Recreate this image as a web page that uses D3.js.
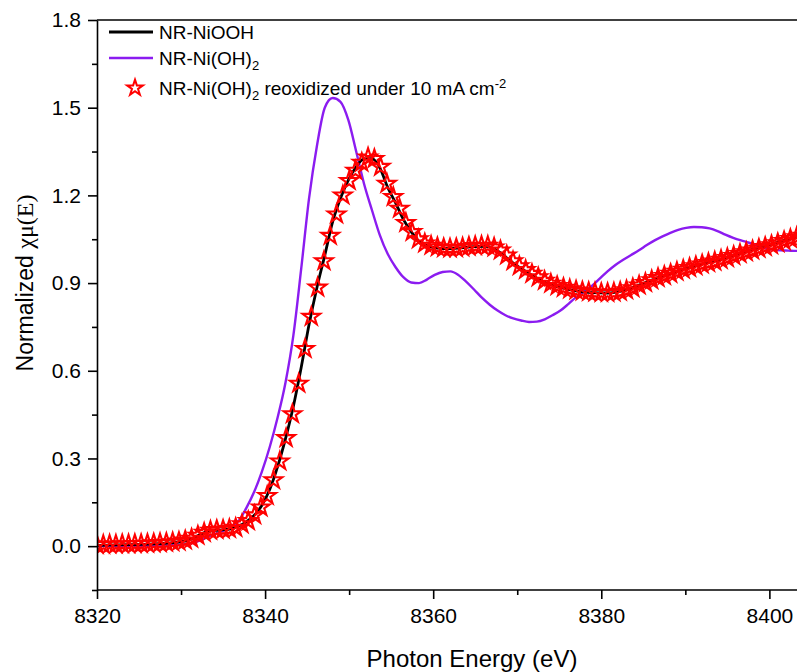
<!DOCTYPE html>
<html>
<head>
<meta charset="utf-8">
<script src="https://cdn.jsdelivr.net/npm/d3@7"></script>
<style>
  html, body { margin: 0; padding: 0; background: #fff; }
  svg { display: block; font-family: "Liberation Sans", Arial, sans-serif; }
</style>
</head>
<body>
<div id="chart"></div>
<script>
// NR-NiOOH (black line), [energy eV, normalized mu]
const niooh = [
  [8320.00, 0.003], [8323.74, 0.005], [8327.48, 0.009], [8329.35, 0.013], [8331.21, 0.024],
  [8332.15, 0.038], [8333.08, 0.050], [8334.02, 0.054], [8334.95, 0.056], [8335.89, 0.059],
  [8336.82, 0.068], [8337.76, 0.083], [8338.69, 0.105], [8339.62, 0.140], [8340.56, 0.195],
  [8341.49, 0.272], [8342.43, 0.368], [8343.36, 0.478], [8344.30, 0.612], [8345.23, 0.758],
  [8346.17, 0.885], [8347.10, 0.995], [8348.04, 1.110], [8348.97, 1.190], [8349.90, 1.252],
  [8350.84, 1.298], [8351.77, 1.325], [8352.71, 1.326], [8353.64, 1.295], [8354.58, 1.228],
  [8355.51, 1.175], [8356.45, 1.118], [8357.38, 1.076], [8358.32, 1.042], [8359.25, 1.028],
  [8361.12, 1.018], [8362.99, 1.020], [8364.86, 1.025], [8366.26, 1.026], [8367.66, 1.010],
  [8368.60, 0.990], [8369.53, 0.968], [8371.40, 0.933], [8373.27, 0.903], [8375.14, 0.885],
  [8377.01, 0.873], [8378.88, 0.867], [8380.74, 0.866], [8382.61, 0.874], [8384.48, 0.893],
  [8386.35, 0.914], [8388.22, 0.932], [8390.09, 0.950], [8391.96, 0.965], [8393.83, 0.978],
  [8395.70, 0.995], [8397.57, 1.012], [8399.43, 1.027], [8401.30, 1.042], [8403.17, 1.056],
  [8404.11, 1.062]
];

// NR-Ni(OH)2 (purple line)
const nioh2 = [
  [8320.00, 0.000], [8323.74, 0.000], [8327.48, 0.002], [8329.35, 0.004], [8331.21, 0.010],
  [8332.15, 0.018], [8333.08, 0.030], [8334.02, 0.042], [8334.95, 0.052], [8335.89, 0.062],
  [8336.82, 0.085], [8337.76, 0.130], [8338.69, 0.185], [8339.62, 0.255], [8340.56, 0.340],
  [8341.49, 0.440], [8342.43, 0.560], [8343.36, 0.720], [8344.30, 0.950], [8345.23, 1.190],
  [8346.17, 1.370], [8347.10, 1.500], [8348.04, 1.533], [8348.97, 1.520], [8349.90, 1.458],
  [8350.84, 1.350], [8351.77, 1.240], [8352.71, 1.150], [8353.64, 1.065], [8354.58, 1.000],
  [8355.51, 0.955], [8356.45, 0.920], [8357.38, 0.902], [8358.32, 0.900], [8359.25, 0.912],
  [8360.18, 0.928], [8361.12, 0.938], [8362.05, 0.940], [8362.99, 0.928], [8363.92, 0.905],
  [8364.86, 0.878], [8365.79, 0.850], [8366.73, 0.826], [8367.66, 0.806], [8368.60, 0.790],
  [8369.53, 0.779], [8370.46, 0.772], [8371.40, 0.767], [8372.33, 0.768], [8373.27, 0.776],
  [8374.20, 0.790], [8375.14, 0.806], [8376.07, 0.828], [8377.01, 0.852], [8377.94, 0.870],
  [8378.88, 0.890], [8379.81, 0.915], [8380.74, 0.940], [8381.68, 0.962], [8382.61, 0.980],
  [8383.55, 0.996], [8384.48, 1.012], [8385.42, 1.030], [8386.35, 1.046], [8387.29, 1.060],
  [8388.22, 1.072], [8389.15, 1.082], [8390.09, 1.089], [8391.02, 1.092], [8391.96, 1.091],
  [8392.89, 1.087], [8393.83, 1.078], [8394.76, 1.066], [8395.70, 1.055], [8396.63, 1.046],
  [8397.57, 1.038], [8398.50, 1.028], [8399.43, 1.020], [8400.37, 1.015], [8401.30, 1.012],
  [8402.24, 1.011], [8403.17, 1.010], [8404.11, 1.010]
];

// NR-Ni(OH)2 reoxidized under 10 mA cm-2 (red stars)
const reoxidized = [
  [8320.00, 0.005], [8320.75, 0.005], [8321.50, 0.006], [8322.25, 0.006], [8323.00, 0.007],
  [8323.75, 0.007], [8324.50, 0.008], [8325.25, 0.008], [8326.00, 0.009], [8326.75, 0.010],
  [8327.50, 0.011], [8328.25, 0.012], [8329.00, 0.014], [8329.75, 0.016], [8330.50, 0.020],
  [8331.25, 0.026], [8332.00, 0.036], [8332.75, 0.046], [8333.50, 0.053], [8334.25, 0.056],
  [8335.00, 0.057], [8335.75, 0.059], [8336.50, 0.063], [8337.25, 0.075], [8338.00, 0.086],
  [8338.75, 0.106], [8339.50, 0.133], [8340.25, 0.172], [8341.00, 0.226], [8341.75, 0.290],
  [8342.50, 0.370], [8343.25, 0.452], [8344.00, 0.556], [8344.75, 0.675], [8345.50, 0.785],
  [8346.25, 0.885], [8347.00, 0.975], [8347.75, 1.062], [8348.50, 1.135], [8349.25, 1.200],
  [8350.00, 1.250], [8350.75, 1.285], [8351.50, 1.312], [8352.25, 1.330], [8353.00, 1.325],
  [8353.75, 1.298], [8354.50, 1.240], [8355.25, 1.195], [8356.00, 1.155], [8356.75, 1.106],
  [8357.50, 1.075], [8358.25, 1.050], [8359.00, 1.036], [8359.75, 1.028], [8360.50, 1.023],
  [8361.25, 1.020], [8362.00, 1.019], [8362.75, 1.020], [8363.50, 1.022], [8364.25, 1.025],
  [8365.00, 1.027], [8365.75, 1.028], [8366.50, 1.028], [8367.25, 1.022], [8368.00, 1.012],
  [8368.75, 0.995], [8369.50, 0.975], [8370.25, 0.958], [8371.00, 0.945], [8371.75, 0.932],
  [8372.50, 0.920], [8373.25, 0.908], [8374.00, 0.898], [8374.75, 0.890], [8375.50, 0.884],
  [8376.25, 0.879], [8377.00, 0.875], [8377.75, 0.872], [8378.50, 0.870], [8379.25, 0.868],
  [8380.00, 0.867], [8380.75, 0.867], [8381.50, 0.868], [8382.25, 0.871], [8383.00, 0.876],
  [8383.75, 0.883], [8384.50, 0.892], [8385.25, 0.901], [8386.00, 0.910], [8386.75, 0.918],
  [8387.50, 0.925], [8388.25, 0.932], [8389.00, 0.939], [8389.75, 0.946], [8390.50, 0.952],
  [8391.25, 0.958], [8392.00, 0.964], [8392.75, 0.969], [8393.50, 0.974], [8394.25, 0.980],
  [8395.00, 0.986], [8395.75, 0.993], [8396.50, 1.000], [8397.25, 1.006], [8398.00, 1.012],
  [8398.75, 1.018], [8399.50, 1.024], [8400.25, 1.030], [8401.00, 1.037], [8401.75, 1.044],
  [8402.50, 1.051], [8403.25, 1.057], [8404.00, 1.062]
];

const xTicks = [8320, 8340, 8360, 8380, 8400];
const xMinorTicks = [8330, 8350, 8370, 8390];
const yTicks = [0.0, 0.3, 0.6, 0.9, 1.2, 1.5, 1.8];
const yMinorTicks = [-0.15, 0.15, 0.45, 0.75, 1.05, 1.35, 1.65];

const width = 797;
const height = 672;
const margin = { top: 20, left: 97, bottom: 82 };
const plotRight = 803;

const purple = "#8b1cf0";
const red = "#ff0000";

const x = d3.scaleLinear().domain([8320, 8404]).range([margin.left, plotRight]);
const y = d3.scaleLinear().domain([-0.15, 1.8]).range([height - margin.bottom, margin.top]);

const svg = d3.select("#chart")
  .append("svg")
  .attr("width", width)
  .attr("height", height)
  .attr("viewBox", `0 0 ${width} ${height}`);

svg.append("rect").attr("width", width).attr("height", height).attr("fill", "#fff");

svg.append("defs")
  .append("clipPath")
  .attr("id", "plot-clip")
  .append("rect")
  .attr("x", margin.left)
  .attr("y", margin.top)
  .attr("width", plotRight - margin.left)
  .attr("height", height - margin.bottom - margin.top);

const series = svg.append("g").attr("clip-path", "url(#plot-clip)");

const line = d3.line()
  .x((d) => x(d[0]))
  .y((d) => y(d[1]))
  .curve(d3.curveMonotoneX);

series.append("path")
  .datum(nioh2)
  .attr("fill", "none")
  .attr("stroke", purple)
  .attr("stroke-width", 2.4)
  .attr("d", line);

series.append("path")
  .datum(niooh)
  .attr("fill", "none")
  .attr("stroke", "#000")
  .attr("stroke-width", 2.8)
  .attr("d", line);

const star = d3.symbol().type(d3.symbolStar).size(95);

series.append("g")
  .selectAll("path")
  .data(reoxidized)
  .join("path")
  .attr("transform", (d) => `translate(${x(d[0])},${y(d[1])})`)
  .attr("d", star)
  .attr("fill", "none")
  .attr("stroke", red)
  .attr("stroke-width", 2.1)
  .attr("stroke-linejoin", "miter");

// top frame
svg.append("line")
  .attr("x1", margin.left).attr("x2", width)
  .attr("y1", margin.top).attr("y2", margin.top)
  .attr("stroke", "#000").attr("stroke-width", 1.6);

// minor ticks
const yMinor = svg.append("g")
  .attr("transform", `translate(${margin.left},0)`)
  .call(d3.axisLeft(y).tickValues(yMinorTicks).tickSize(5).tickFormat(""));
yMinor.select(".domain").remove();

const xMinor = svg.append("g")
  .attr("transform", `translate(0,${height - margin.bottom})`)
  .call(d3.axisBottom(x).tickValues(xMinorTicks).tickSize(5).tickFormat(""));
xMinor.select(".domain").remove();

const yAxis = svg.append("g")
  .attr("transform", `translate(${margin.left},0)`)
  .call(d3.axisLeft(y).tickValues(yTicks).tickSize(9).tickSizeOuter(0).tickPadding(7).tickFormat(d3.format(".1f")));

const xAxis = svg.append("g")
  .attr("transform", `translate(0,${height - margin.bottom})`)
  .call(d3.axisBottom(x).tickValues(xTicks).tickSize(9).tickSizeOuter(0).tickPadding(9).tickFormat(d3.format("d")));

[yAxis, xAxis, yMinor, xMinor].forEach((g) => {
  g.selectAll("line").attr("stroke", "#000").attr("stroke-width", 1.6);
  g.selectAll(".domain").attr("stroke", "#000").attr("stroke-width", 1.6);
  g.selectAll("text")
    .attr("fill", "#000")
    .style("font-family", "'Liberation Sans', Arial, sans-serif")
    .style("font-size", "21px");
});
xAxis.select(".domain").attr("d", `M${margin.left},0H${width}`);

// axis titles
svg.append("text")
  .attr("x", 472)
  .attr("y", 667)
  .attr("text-anchor", "middle")
  .style("font-size", "24px")
  .text("Photon Energy (eV)");

const yTitle = svg.append("text")
  .attr("transform", "translate(33,283) rotate(-90)")
  .attr("text-anchor", "middle")
  .style("font-size", "23px");
yTitle.append("tspan").text("Normalized ");
yTitle.append("tspan")
  .style("font-family", "'Liberation Serif', 'Times New Roman', serif")
  .style("font-size", "24px")
  .text("χμ(E)");

// legend
const legend = svg.append("g").style("font-size", "19px");

legend.append("line")
  .attr("x1", 109).attr("x2", 153).attr("y1", 32).attr("y2", 32)
  .attr("stroke", "#000").attr("stroke-width", 2.8);
legend.append("text").attr("x", 159).attr("y", 39).text("NR-NiOOH");

legend.append("line")
  .attr("x1", 109).attr("x2", 153).attr("y1", 58).attr("y2", 58)
  .attr("stroke", purple).attr("stroke-width", 2.4);
const t2 = legend.append("text").attr("x", 159).attr("y", 65);
t2.append("tspan").text("NR-Ni(OH)");
t2.append("tspan").attr("dy", 5).style("font-size", "13px").text("2");

legend.append("path")
  .attr("transform", "translate(135,88)")
  .attr("d", d3.symbol().type(d3.symbolStar).size(78))
  .attr("fill", "none")
  .attr("stroke", red)
  .attr("stroke-width", 2);
const t3 = legend.append("text").attr("x", 159).attr("y", 95);
t3.append("tspan").text("NR-Ni(OH)");
t3.append("tspan").attr("dy", 5).style("font-size", "13px").text("2");
t3.append("tspan").attr("dy", -5).text(" reoxidized under 10 mA cm");
t3.append("tspan").attr("dy", -7).style("font-size", "13px").text("-2");
</script>
</body>
</html>
